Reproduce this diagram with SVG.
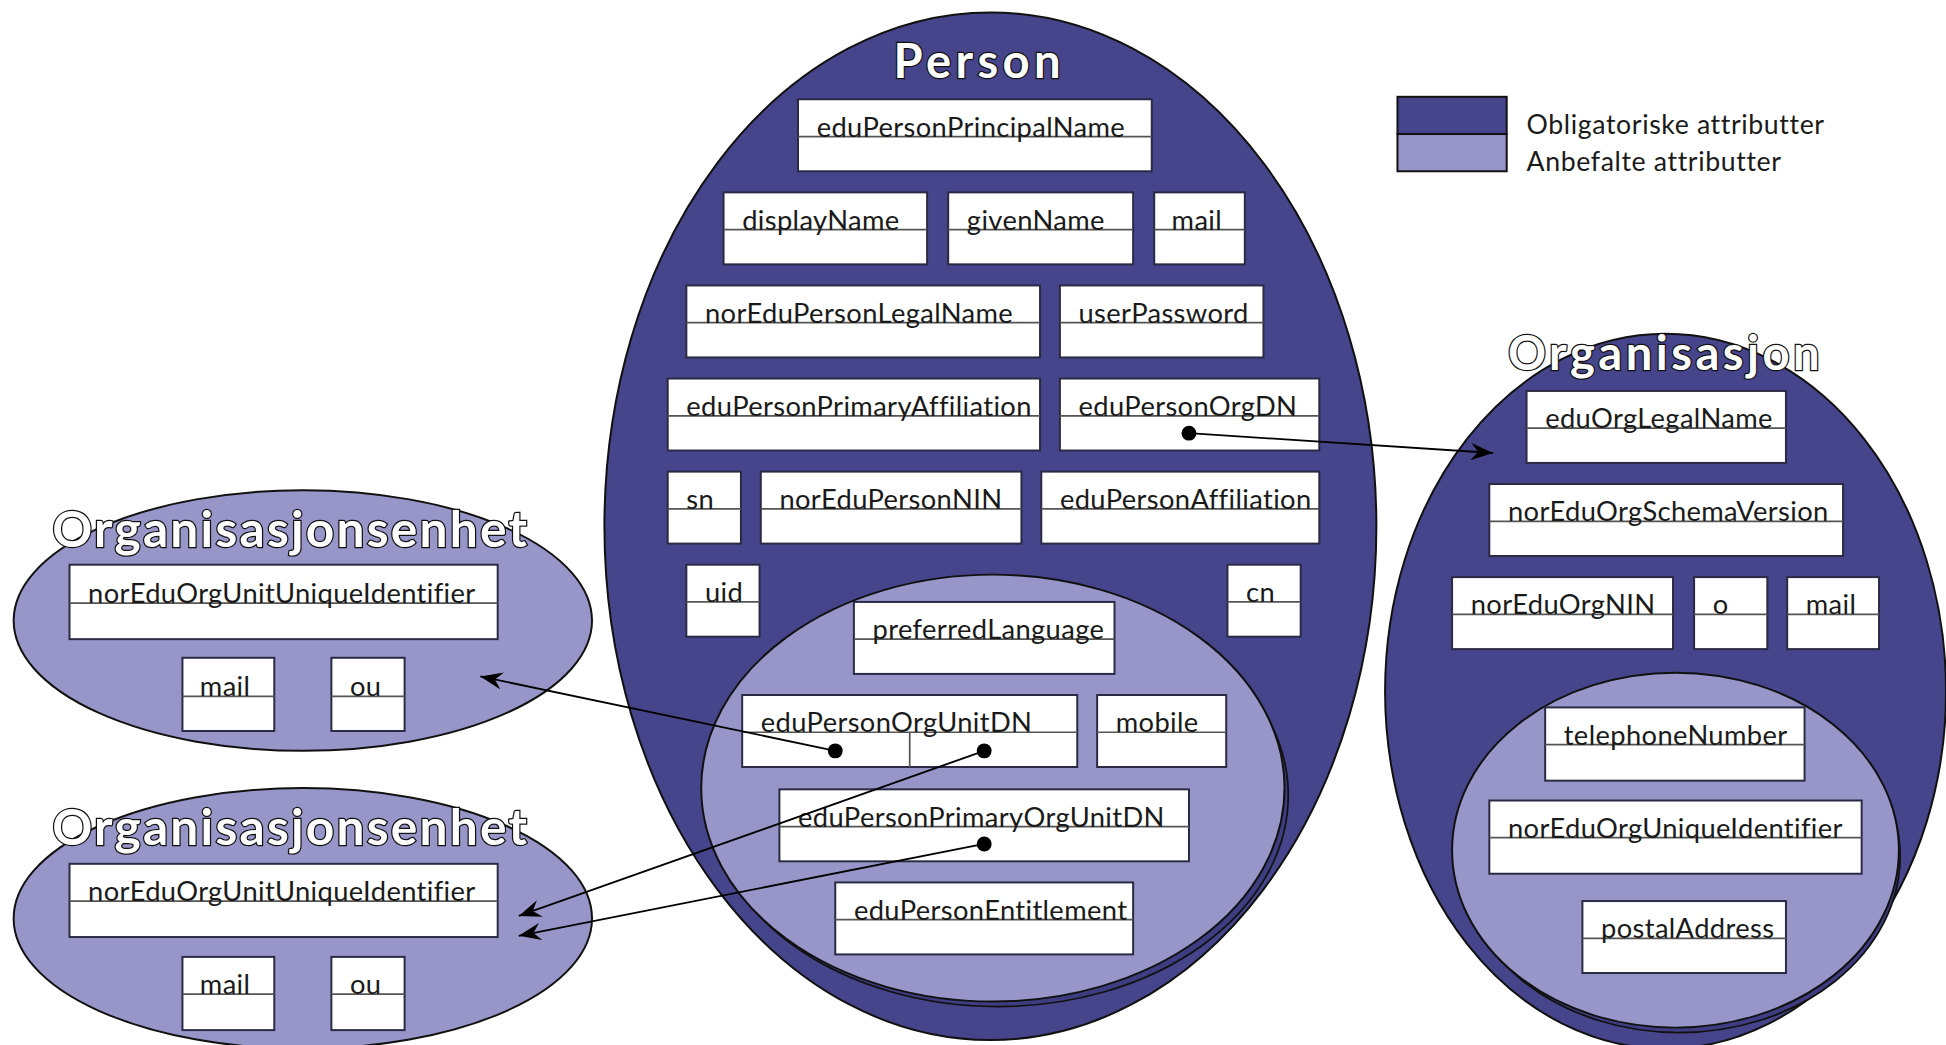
<svg xmlns="http://www.w3.org/2000/svg" width="1946" height="1045" viewBox="0 0 1946 1045">
<style>
.dark{fill:#46448a;stroke:#111;stroke-width:1.6}
.light{fill:#9896c9;stroke:#111;stroke-width:1.6}
.shadow{fill:#3f3d82;stroke:#111;stroke-width:1.4}
.box{fill:#fff;stroke:#2a2a45;stroke-width:1.6}
.sep{stroke:#555;stroke-width:1.4}
.lbl{font-family:Lato,"Open Sans","Liberation Sans",sans-serif;font-size:22px;letter-spacing:0.3px;fill:#1a1a1a}
.title{font-family:Lato,"Open Sans","Liberation Sans",sans-serif;font-weight:bold;fill:#fff;stroke:#111;stroke-width:2;paint-order:stroke}
.leg{font-family:Lato,"Open Sans","Liberation Sans",sans-serif;font-size:21.5px;letter-spacing:0.5px;fill:#1a1a1a}
.conn{stroke:#000;stroke-width:1.5;fill:none;marker-end:url(#arr)}
.dot{fill:#000}
</style>
<defs>
<marker id="arr" markerUnits="userSpaceOnUse" markerWidth="20" markerHeight="14" refX="18" refY="7" orient="auto">
<path d="M0,0 L18,7 L0,14 L6,7 z" fill="#000"/>
</marker>
</defs>
<rect width="1946" height="1045" fill="#fff"/>
<g transform="scale(1.2411)">
<g id="person">
<ellipse class="dark" cx="798" cy="424" rx="311" ry="414"/>
<text class="title" x="720" y="63" font-size="38" letter-spacing="3.5">Person</text>
<ellipse class="shadow" cx="804" cy="641" rx="234" ry="170"/>
<ellipse class="light" cx="800" cy="635" rx="235" ry="172"/>
</g>
<g id="p-eduPersonPrincipalName"><rect class="box" x="643" y="80" width="285" height="58"/><line class="sep" x1="643" y1="110" x2="928" y2="110"/><text class="lbl" x="658" y="110">eduPersonPrincipalName</text></g>
<g id="p-displayName"><rect class="box" x="583" y="155" width="164" height="58"/><line class="sep" x1="583" y1="185" x2="747" y2="185"/><text class="lbl" x="598" y="185">displayName</text></g>
<g id="p-givenName"><rect class="box" x="764" y="155" width="149" height="58"/><line class="sep" x1="764" y1="185" x2="913" y2="185"/><text class="lbl" x="779" y="185">givenName</text></g>
<g id="p-mail"><rect class="box" x="930" y="155" width="73" height="58"/><line class="sep" x1="930" y1="185" x2="1003" y2="185"/><text class="lbl" x="944" y="185">mail</text></g>
<g id="p-norEduPersonLegalName"><rect class="box" x="553" y="230" width="285" height="58"/><line class="sep" x1="553" y1="260" x2="838" y2="260"/><text class="lbl" x="568" y="260">norEduPersonLegalName</text></g>
<g id="p-userPassword"><rect class="box" x="854" y="230" width="164" height="58"/><line class="sep" x1="854" y1="260" x2="1018" y2="260"/><text class="lbl" x="869" y="260">userPassword</text></g>
<g id="p-eduPersonPrimaryAffiliation"><rect class="box" x="538" y="305" width="300" height="58"/><line class="sep" x1="538" y1="335" x2="838" y2="335"/><text class="lbl" x="553" y="335">eduPersonPrimaryAffiliation</text></g>
<g id="p-eduPersonOrgDN"><rect class="box" x="854" y="305" width="209" height="58"/><line class="sep" x1="854" y1="335" x2="1063" y2="335"/><text class="lbl" x="869" y="335">eduPersonOrgDN</text></g>
<g id="p-sn"><rect class="box" x="538" y="380" width="59" height="58"/><line class="sep" x1="538" y1="410" x2="597" y2="410"/><text class="lbl" x="553" y="410">sn</text></g>
<g id="p-norEduPersonNIN"><rect class="box" x="613" y="380" width="210" height="58"/><line class="sep" x1="613" y1="410" x2="823" y2="410"/><text class="lbl" x="628" y="410">norEduPersonNIN</text></g>
<g id="p-eduPersonAffiliation"><rect class="box" x="839" y="380" width="224" height="58"/><line class="sep" x1="839" y1="410" x2="1063" y2="410"/><text class="lbl" x="854" y="410">eduPersonAffiliation</text></g>
<g id="p-uid"><rect class="box" x="553" y="455" width="59" height="58"/><line class="sep" x1="553" y1="485" x2="612" y2="485"/><text class="lbl" x="568" y="485">uid</text></g>
<g id="p-cn"><rect class="box" x="989" y="455" width="59" height="58"/><line class="sep" x1="989" y1="485" x2="1048" y2="485"/><text class="lbl" x="1004" y="485">cn</text></g>
<g id="p-preferredLanguage"><rect class="box" x="688" y="485" width="210" height="58"/><line class="sep" x1="688" y1="515" x2="898" y2="515"/><text class="lbl" x="703" y="515">preferredLanguage</text></g>
<g id="p-eduPersonOrgUnitDN"><rect class="box" x="598" y="560" width="270" height="58"/><line class="sep" x1="598" y1="590" x2="868" y2="590"/><line class="sep" x1="733" y1="590" x2="733" y2="618"/><text class="lbl" x="613" y="590">eduPersonOrgUnitDN</text></g>
<g id="p-mobile"><rect class="box" x="884" y="560" width="104" height="58"/><line class="sep" x1="884" y1="590" x2="988" y2="590"/><text class="lbl" x="899" y="590">mobile</text></g>
<g id="p-eduPersonPrimaryOrgUnitDN"><rect class="box" x="628" y="636" width="330" height="58"/><line class="sep" x1="628" y1="666" x2="958" y2="666"/><text class="lbl" x="643" y="666">eduPersonPrimaryOrgUnitDN</text></g>
<g id="p-eduPersonEntitlement"><rect class="box" x="673" y="711" width="240" height="58"/><line class="sep" x1="673" y1="741" x2="913" y2="741"/><text class="lbl" x="688" y="741">eduPersonEntitlement</text></g>

<g id="orgenhet1">
<ellipse class="light" cx="244" cy="500" rx="233" ry="105"/>
<text class="title" x="42" y="441" font-size="40" letter-spacing="1.8">Organisasjonsenhet</text>
</g>
<g id="oe1-norEduOrgUnitUniqueIdentifier"><rect class="box" x="56" y="455" width="345" height="60"/><line class="sep" x1="56" y1="486" x2="401" y2="486"/><text class="lbl" x="71" y="486">norEduOrgUnitUniqueIdentifier</text></g>
<g id="oe1-mail"><rect class="box" x="147" y="530" width="74" height="59"/><line class="sep" x1="147" y1="561" x2="221" y2="561"/><text class="lbl" x="161" y="561">mail</text></g>
<g id="oe1-ou"><rect class="box" x="267" y="530" width="59" height="59"/><line class="sep" x1="267" y1="561" x2="326" y2="561"/><text class="lbl" x="282" y="561">ou</text></g>

<g id="orgenhet2">
<ellipse class="light" cx="244" cy="740" rx="233" ry="105"/>
<text class="title" x="42" y="681" font-size="40" letter-spacing="1.8">Organisasjonsenhet</text>
</g>
<g id="oe2-norEduOrgUnitUniqueIdentifier"><rect class="box" x="56" y="696" width="345" height="59"/><line class="sep" x1="56" y1="726" x2="401" y2="726"/><text class="lbl" x="71" y="726">norEduOrgUnitUniqueIdentifier</text></g>
<g id="oe2-mail"><rect class="box" x="147" y="771" width="74" height="59"/><line class="sep" x1="147" y1="801" x2="221" y2="801"/><text class="lbl" x="161" y="801">mail</text></g>
<g id="oe2-ou"><rect class="box" x="267" y="771" width="59" height="59"/><line class="sep" x1="267" y1="801" x2="326" y2="801"/><text class="lbl" x="282" y="801">ou</text></g>

<g id="organisasjon">
<ellipse class="dark" cx="1342" cy="557" rx="226" ry="288"/>
<text class="title" x="1215" y="298" font-size="38" letter-spacing="2.8">Organisasjon</text>
<ellipse class="shadow" cx="1353" cy="690" rx="178" ry="142"/>
<ellipse class="light" cx="1350" cy="685" rx="180" ry="143"/>
</g>
<g id="o-eduOrgLegalName"><rect class="box" x="1230" y="315" width="209" height="58"/><line class="sep" x1="1230" y1="345" x2="1439" y2="345"/><text class="lbl" x="1245" y="345">eduOrgLegalName</text></g>
<g id="o-norEduOrgSchemaVersion"><rect class="box" x="1200" y="390" width="285" height="58"/><line class="sep" x1="1200" y1="420" x2="1485" y2="420"/><text class="lbl" x="1215" y="420">norEduOrgSchemaVersion</text></g>
<g id="o-norEduOrgNIN"><rect class="box" x="1170" y="465" width="178" height="58"/><line class="sep" x1="1170" y1="495" x2="1348" y2="495"/><text class="lbl" x="1185" y="495">norEduOrgNIN</text></g>
<g id="o-o"><rect class="box" x="1365" y="465" width="59" height="58"/><line class="sep" x1="1365" y1="495" x2="1424" y2="495"/><text class="lbl" x="1380" y="495">o</text></g>
<g id="o-mail"><rect class="box" x="1440" y="465" width="74" height="58"/><line class="sep" x1="1440" y1="495" x2="1514" y2="495"/><text class="lbl" x="1455" y="495">mail</text></g>
<g id="o-telephoneNumber"><rect class="box" x="1245" y="570" width="209" height="59"/><line class="sep" x1="1245" y1="600" x2="1454" y2="600"/><text class="lbl" x="1260" y="600">telephoneNumber</text></g>
<g id="o-norEduOrgUniqueIdentifier"><rect class="box" x="1200" y="645" width="300" height="59"/><line class="sep" x1="1200" y1="675" x2="1500" y2="675"/><text class="lbl" x="1215" y="675">norEduOrgUniqueIdentifier</text></g>
<g id="o-postalAddress"><rect class="box" x="1275" y="726" width="164" height="58"/><line class="sep" x1="1275" y1="756" x2="1439" y2="756"/><text class="lbl" x="1290" y="756">postalAddress</text></g>

<g id="legend">
<rect x="1126" y="78" width="88" height="30" fill="#46448a" stroke="#111" stroke-width="1.6"/>
<rect x="1126" y="108" width="88" height="30" fill="#9896c9" stroke="#111" stroke-width="1.6"/>
<text class="leg" x="1230" y="108">Obligatoriske attributter</text>
<text class="leg" x="1230" y="138">Anbefalte attributter</text>
</g>

<g id="connectors">
<line class="conn" x1="958" y1="349" x2="1203" y2="365"/>
<line class="conn" x1="673" y1="605" x2="387" y2="545"/>
<line class="conn" x1="793" y1="605" x2="418" y2="738"/>
<line class="conn" x1="793" y1="680" x2="418" y2="754"/>
<circle class="dot" cx="958" cy="349" r="6"/>
<circle class="dot" cx="673" cy="605" r="6"/>
<circle class="dot" cx="793" cy="605" r="6"/>
<circle class="dot" cx="793" cy="680" r="6"/>
</g>
</g>
</svg>
